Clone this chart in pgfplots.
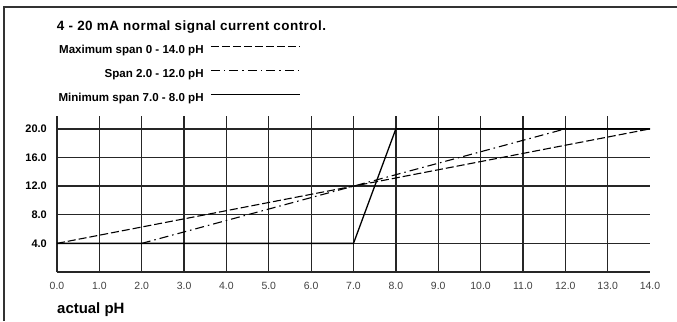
\documentclass[border=0pt]{standalone}
\usepackage{fontspec}
\setmainfont{Liberation Sans}
\usepackage{pgfplots}
\pgfplotsset{compat=1.18}
\begin{document}
\begin{tikzpicture}[x=1bp,y=1bp]
\path[use as bounding box] (0,0) rectangle (677,321);
\draw[line width=1.3bp, black!80] (4,0) -- (4,314) -- (677,314);
\begin{axis}[
  at={(57bp,49bp)}, anchor=south west,
  scale only axis, width=593bp, height=156bp,
  xmin=0, xmax=14, ymin=0, ymax=21.8,
  axis x line=bottom, axis y line=left,
  axis line style={-, line width=1.3bp, black!85},
  xtick={0,1,...,13}, extra x ticks={14}, extra x tick style={grid=none},
  ytick={4,8,12,16,20},
  xmajorgrids, ymajorgrids,
  grid style={line width=1.3bp, black!85},
  major tick length=0pt,
  /pgf/number format/assume math mode=true,
  /pgf/number format/.cd, fixed, fixed zerofill, precision=1, /pgfplots/.cd,
  xticklabel style={font=\fontsize{10.5}{12}\selectfont, text=black!75, anchor=north, inner sep=0pt, yshift=-9.5bp},
  yticklabel style={font=\fontsize{11}{13}\selectfont\bfseries, anchor=east, inner sep=0pt, xshift=-10bp},
  legend style={at={(0.0022,1.455)}, anchor=north west, draw=none, fill=none, inner sep=0pt,
    row sep=13.5bp, column sep=6.5bp, font=\fontsize{11.6}{13}\selectfont\bfseries,
    nodes={inner sep=0pt, text height=8bp, text depth=2.5bp}},
  legend cell align=right, legend plot pos=right,
  legend image code/.code={\draw[#1] (0bp,4bp) -- (89bp,4bp);},
]
\addplot[black, line width=1.1bp, dash pattern=on 8bp off 3bp] coordinates {(0,4) (14,20)};
\addlegendentry{Maximum span 0 - 14.0 pH}
\addplot[black, line width=1.1bp, dash pattern=on 9bp off 4bp on 1.5bp off 4bp] coordinates {(2,4) (12,20)};
\addlegendentry{Span 2.0 - 12.0 pH}
\addplot[black, line width=1.3bp] coordinates {(0,4) (7,4) (8,20) (14,20)};
\addlegendentry{Minimum span 7.0 - 8.0 pH}
\end{axis}
\node[anchor=base west, inner sep=0pt, font=\fontsize{13.5}{15}\selectfont\bfseries\addfontfeature{LetterSpace=3.5}] at (56.7bp,290.3bp) {4 - 20 mA normal signal current control.};
\node[anchor=base west, inner sep=0pt, font=\fontsize{15}{17}\selectfont\bfseries] at (57bp,8bp) {actual pH};
\end{tikzpicture}
\end{document}
